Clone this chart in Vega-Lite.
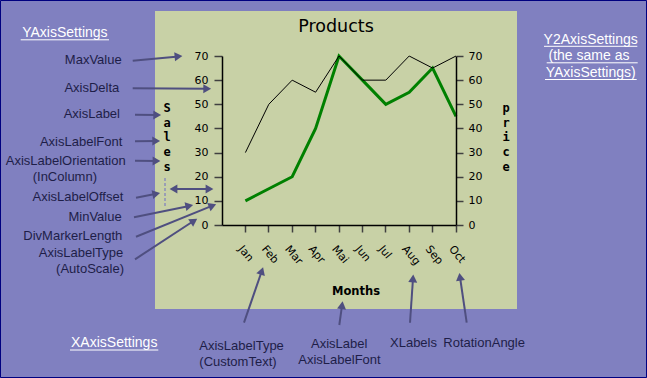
{
  "$schema": "https://vega.github.io/schema/vega-lite/v6.json",
  "width": 234,
  "height": 169,
  "autosize": "none",
  "padding": {"left": 222, "top": 56, "right": 191, "bottom": 153},
  "background": "#8080c0",
  "config": {"view": {"stroke": null}, "font": "Liberation Sans"},
  "title": {"text": "Products", "font": "DejaVu Sans", "fontSize": 17.5, "fontWeight": "normal", "color": "#000000", "anchor": "middle", "frame": "group", "baseline": "alphabetic", "offset": -49, "dx": -3},
  "datasets": {
    "months": [
      {"month": "Jan", "sales": 30, "price": 10},
      {"month": "Feb", "sales": 50, "price": 15},
      {"month": "Mar", "sales": 60, "price": 20},
      {"month": "Apr", "sales": 55, "price": 40},
      {"month": "Mai", "sales": 70, "price": 70},
      {"month": "Jun", "sales": 60, "price": 60},
      {"month": "Jul", "sales": 60, "price": 50},
      {"month": "Aug", "sales": 70, "price": 55},
      {"month": "Sep", "sales": 65, "price": 65},
      {"month": "Oct", "sales": 70, "price": 45}
    ],
    "panel": [{"x": 155, "y": 11, "x2": 517, "y2": 309}],
    "frame": [{"x": 0.5, "y": 0.5, "x2": 646.5, "y2": 377.5}],
    "leftNotes": [
      {"text": "MaxValue", "x": 121.7, "y": 60},
      {"text": "AxisDelta", "x": 119.3, "y": 88.3},
      {"text": "AxisLabel", "x": 120, "y": 114.3},
      {"text": "AxisLabelFont", "x": 122.3, "y": 141.7},
      {"text": "AxisLabelOrientation", "x": 125.7, "y": 160.7},
      {"text": "(InColumn)", "x": 97, "y": 176.7},
      {"text": "AxisLabelOffset", "x": 123.3, "y": 197.3},
      {"text": "MinValue", "x": 121.7, "y": 216.7},
      {"text": "DivMarkerLength", "x": 122.3, "y": 235.7},
      {"text": "AxisLabelType", "x": 123.3, "y": 253.3},
      {"text": "(AutoScale)", "x": 124, "y": 269.3}
    ],
    "bottomNotes": [
      {"text": "AxisLabelType", "x": 199.3, "y": 345.7},
      {"text": "(CustomText)", "x": 199.3, "y": 361.7},
      {"text": "AxisLabel", "x": 311, "y": 344.3},
      {"text": "AxisLabelFont", "x": 298.3, "y": 360},
      {"text": "XLabels", "x": 390, "y": 342.7},
      {"text": "RotationAngle", "x": 443.3, "y": 342.7}
    ],
    "links": [
      {"text": "YAxisSettings", "x": 64.9, "y": 33.3},
      {"text": "XAxisSettings", "x": 114.2, "y": 343.3},
      {"text": "Y2AxisSettings", "x": 590.7, "y": 39.7},
      {"text": "(the same as", "x": 589, "y": 56.3},
      {"text": "YAxisSettings)", "x": 590.7, "y": 72.7}
    ],
    "underlines": [
      {"x": 20.7, "x2": 109, "y": 39.8},
      {"x": 70, "x2": 158.3, "y": 350},
      {"x": 544, "x2": 637.3, "y": 46.3},
      {"x": 546.7, "x2": 637.7, "y": 62.8},
      {"x": 545, "x2": 636.7, "y": 79.5}
    ],
    "guides": [{"x": 165, "y": 178, "x2": 165, "y2": 207}],
    "arrows": [
      {"x": 132.7, "y": 60.7, "x2": 183, "y2": 56},
      {"x": 132.7, "y": 88.3, "x2": 211.7, "y2": 88.7},
      {"x": 135, "y": 114.7, "x2": 161.7, "y2": 115},
      {"x": 135, "y": 141.3, "x2": 160.7, "y2": 141},
      {"x": 135, "y": 160.7, "x2": 161, "y2": 161},
      {"x": 136, "y": 197.7, "x2": 160.7, "y2": 193},
      {"x": 134, "y": 217.3, "x2": 193.7, "y2": 205},
      {"x": 136, "y": 236.7, "x2": 216.7, "y2": 204},
      {"x": 135, "y": 259.3, "x2": 197.7, "y2": 218.3},
      {"x": 244, "y": 322.7, "x2": 263.3, "y2": 266.7},
      {"x": 339.3, "y": 325, "x2": 342.7, "y2": 300.7},
      {"x": 410, "y": 322.7, "x2": 413.3, "y2": 274},
      {"x": 466.7, "y": 322.7, "x2": 459.3, "y2": 272.3},
      {"x": 191, "y": 189, "x2": 214, "y2": 189},
      {"x": 191, "y": 189, "x2": 169, "y2": 189}
    ]
  },
  "layer": [
    {
      "layer": [
        {
          "data": {"name": "panel"},
          "mark": {"type": "rect", "fill": "#c8d1a6"},
          "encoding": {
            "x": {"field": "x", "type": "quantitative", "scale": {"domain": [222, 456], "nice": false, "zero": false}, "axis": null},
            "x2": {"field": "x2"},
            "y": {"field": "y", "type": "quantitative", "scale": {"domain": [56, 225], "nice": false, "zero": false, "reverse": true}, "axis": null},
            "y2": {"field": "y2"}
          }
        },
        {
          "data": {"name": "frame"},
          "mark": {"type": "rect", "filled": false, "stroke": "#000080", "strokeWidth": 1},
          "encoding": {
            "x": {"field": "x", "type": "quantitative", "axis": null},
            "x2": {"field": "x2"},
            "y": {"field": "y", "type": "quantitative", "axis": null},
            "y2": {"field": "y2"}
          }
        }
      ]
    },
    {
      "data": {"name": "months"},
      "mark": {"type": "line", "color": "#008000", "strokeWidth": 3},
      "encoding": {
        "x": {"field": "month", "type": "ordinal", "sort": null, "bandPosition": 1, "scale": {"type": "band", "paddingInner": 0, "paddingOuter": 0}, "axis": null},
        "y": {
          "field": "price", "type": "quantitative",
          "scale": {"domain": [0, 70], "nice": false},
          "axis": {
            "orient": "right", "values": [0, 10, 20, 30, 40, 50, 60, 70], "grid": false, "zindex": 1,
            "tickSize": 7, "tickColor": "#404040", "tickWidth": 1.5, "domainColor": "#000000", "domainWidth": 1.5,
            "labelFont": "DejaVu Sans", "labelFontSize": 11, "labelColor": "#000000", "labelPadding": 5,
            "title": ["p", "r", "i", "c", "e"], "titleAngle": 0, "titleX": 49.7, "titleY": 46.5,
            "titleAlign": "center", "titleBaseline": "top", "titleFont": "DejaVu Sans Mono", "titleFontSize": 12,
            "titleFontWeight": "bold", "titleColor": "#000000", "titleLineHeight": 14.7
          }
        }
      }
    },
    {
      "data": {"name": "months"},
      "mark": {"type": "line", "color": "#000000", "strokeWidth": 1},
      "encoding": {
        "x": {
          "field": "month", "type": "ordinal", "sort": null, "bandPosition": 1,
          "scale": {"type": "band", "paddingInner": 0, "paddingOuter": 0},
          "axis": {
            "orient": "bottom", "bandPosition": 1, "labelAngle": 50, "labelAlign": "left", "labelBaseline": "top",
            "labelFont": "DejaVu Sans", "labelFontSize": 11, "labelColor": "#000000", "labelPadding": 11, "labelOffset": 11, "labelOverlap": false,
            "tickSize": 7, "tickColor": "#404040", "tickWidth": 1.5, "domainColor": "#000000", "domainWidth": 1.5, "zindex": 1,
            "title": "Months", "titleX": 133.5, "titleY": 66.4, "titleAlign": "center", "titleBaseline": "middle",
            "titleFont": "DejaVu Sans", "titleFontWeight": "bold", "titleFontSize": 11.5, "titleColor": "#000000"
          }
        },
        "y": {
          "field": "sales", "type": "quantitative",
          "scale": {"domain": [0, 70], "nice": false},
          "axis": {
            "orient": "left", "values": [0, 10, 20, 30, 40, 50, 60, 70], "grid": false, "zindex": 1,
            "tickSize": 8, "tickColor": "#404040", "tickWidth": 1.5, "domainColor": "#000000", "domainWidth": 1.5,
            "labelFont": "DejaVu Sans", "labelFontSize": 11, "labelColor": "#000000", "labelPadding": 6,
            "title": ["S", "a", "l", "e", "s"], "titleAngle": 0, "titleX": -55.5, "titleY": 46.5,
            "titleAlign": "center", "titleBaseline": "top", "titleFont": "DejaVu Sans Mono", "titleFontSize": 12,
            "titleFontWeight": "bold", "titleColor": "#000000", "titleLineHeight": 14.7
          }
        }
      }
    },
    {
      "layer": [
        {
          "data": {"name": "guides"},
          "mark": {"type": "rule", "color": "#6c6cc4", "strokeWidth": 1, "strokeDash": [3, 2]},
          "encoding": {
            "x": {"field": "x", "type": "quantitative", "scale": {"domain": [222, 456], "nice": false, "zero": false}, "axis": null},
            "x2": {"field": "x2"},
            "y": {"field": "y", "type": "quantitative", "scale": {"domain": [56, 225], "nice": false, "zero": false, "reverse": true}, "axis": null},
            "y2": {"field": "y2"}
          }
        },
        {
          "data": {"name": "arrows"},
          "transform": [
            {"calculate": "atan2(datum.y2 - datum.y, datum.x2 - datum.x)", "as": "a"},
            {"calculate": "datum.a * 180 / PI", "as": "angle"},
            {"calculate": "datum.x2 - 4.5 * cos(datum.a)", "as": "hx"},
            {"calculate": "datum.y2 - 4.5 * sin(datum.a)", "as": "hy"}
          ],
          "layer": [
            {
              "mark": {"type": "rule", "color": "#4f4f80", "strokeWidth": 2},
              "encoding": {
                "x": {"field": "x", "type": "quantitative", "axis": null},
                "x2": {"field": "hx"},
                "y": {"field": "y", "type": "quantitative", "axis": null},
                "y2": {"field": "hy"}
              }
            },
            {
              "mark": {"type": "point", "shape": "triangle-right", "filled": true, "color": "#4f4f80", "size": 81, "opacity": 1},
              "encoding": {
                "x": {"field": "hx", "type": "quantitative", "axis": null},
                "y": {"field": "hy", "type": "quantitative", "axis": null},
                "angle": {"field": "angle", "type": "quantitative", "scale": null}
              }
            }
          ]
        },
        {
          "data": {"name": "leftNotes"},
          "mark": {"type": "text", "align": "right", "baseline": "middle", "font": "Liberation Sans", "fontSize": 13, "color": "#1e1e48"},
          "encoding": {
            "x": {"field": "x", "type": "quantitative", "axis": null},
            "y": {"field": "y", "type": "quantitative", "axis": null},
            "text": {"field": "text", "type": "nominal"}
          }
        },
        {
          "data": {"name": "bottomNotes"},
          "mark": {"type": "text", "align": "left", "baseline": "middle", "font": "Liberation Sans", "fontSize": 13, "color": "#1e1e48"},
          "encoding": {
            "x": {"field": "x", "type": "quantitative", "axis": null},
            "y": {"field": "y", "type": "quantitative", "axis": null},
            "text": {"field": "text", "type": "nominal"}
          }
        },
        {
          "data": {"name": "links"},
          "mark": {"type": "text", "align": "center", "baseline": "middle", "font": "Liberation Sans", "fontSize": 14, "color": "#ffffff"},
          "encoding": {
            "x": {"field": "x", "type": "quantitative", "axis": null},
            "y": {"field": "y", "type": "quantitative", "axis": null},
            "text": {"field": "text", "type": "nominal"}
          }
        },
        {
          "data": {"name": "underlines"},
          "mark": {"type": "rule", "color": "#ffffff", "strokeWidth": 1},
          "encoding": {
            "x": {"field": "x", "type": "quantitative", "axis": null},
            "x2": {"field": "x2"},
            "y": {"field": "y", "type": "quantitative", "axis": null}
          }
        }
      ]
    }
  ],
  "resolve": {"scale": {"x": "independent", "y": "independent"}, "axis": {"x": "independent", "y": "independent"}}
}
